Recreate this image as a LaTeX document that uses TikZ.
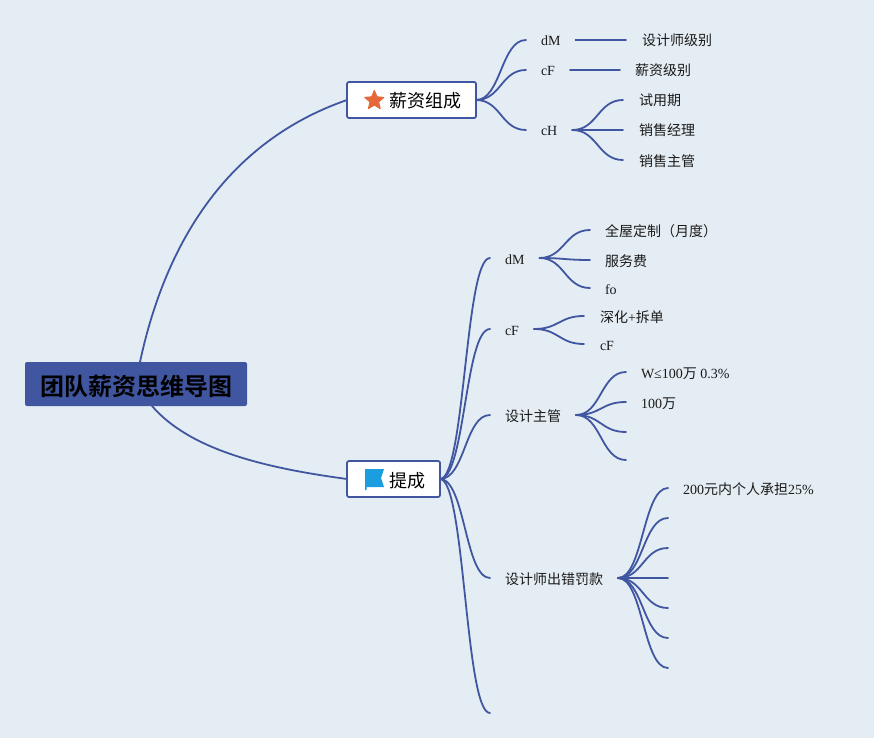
\documentclass[tikz,border=0pt]{standalone}
\usepackage{fontspec}
\setmainfont{Liberation Serif}
\newfontfamily\cjk{Noto Sans CJK SC}
\newfontfamily\cjkb{Noto Sans CJK SC Bold}
\usetikzlibrary{shapes.geometric}
\definecolor{bgc}{HTML}{E4EDF3}
\definecolor{linec}{HTML}{4056A1}
\definecolor{inkc}{HTML}{1A1A1A}
\definecolor{starc}{HTML}{E5673A}
\definecolor{flagc}{HTML}{1B9EDF}
\newcommand\lnk[2]{\draw[linkline] (#1) .. controls +(25,0) and +(-25,0) .. (#2);}
\newcommand\zh[1]{{\cjk #1}}
\tikzset{
  linkline/.style={draw=linec,line width=1.8pt,line cap=round},
  mainbox/.style={draw=linec,fill=white,line width=1.8pt,rounded corners=2pt,anchor=west,
    inner xsep=15pt,inner ysep=0pt,minimum height=36pt,outer sep=0pt,text height=16pt,text depth=0pt,
    font=\fontsize{18}{18}\selectfont,text=black},
  rootbox/.style={fill=linec,rounded corners=2pt,minimum width=222pt,minimum height=44pt,
    inner sep=0pt,outer sep=0pt,text height=22pt,text depth=0pt,text=black,font=\fontsize{24}{24}\selectfont},
  topic/.style={anchor=west,inner xsep=15pt,inner ysep=0pt,outer sep=0pt,text height=12pt,text depth=0pt,
    text=inkc,font=\fontsize{14}{14}\selectfont},
  leaf/.style={anchor=west,inner xsep=0pt,inner ysep=0pt,outer sep=0pt,text height=12pt,text depth=0pt,
    text=inkc,font=\fontsize{14}{14}\selectfont},
}
\begin{document}
\begin{tikzpicture}[x=1pt,y=-1pt]
\path[use as bounding box,fill=bgc] (0,0) rectangle (874,738);
% root and main boxes
\node[rootbox] (root) at (136,384) {\cjkb 团队薪资思维导图};
\node[mainbox] (pay) at (347,100) {\hspace{27pt}\zh{薪资组成}};
\node[mainbox] (comm) at (347,479) {\hspace{27pt}\zh{提成}};
\node[star,star points=5,star point ratio=2.2,fill=starc,draw=starc,line width=1pt,line join=round,minimum size=20pt,inner sep=0pt] (staricon) at (374.3,100.5) {};
\fill[fill=flagc] (365,469) -- (384,469) -- (381,478) -- (384,487) -- (366.5,487) -- (366.5,490) -- (365,490) -- cycle;
% first group
\node[topic] (a1) at (526,40) {dM};
\node[topic] (a2) at (526,70) {cF};
\node[topic] (a3) at (526,130) {cH};
\node[leaf,inner xsep=16pt] (a1a) at (626,40) {\zh{设计师级别}};
\node[leaf,inner xsep=15pt] (a2a) at (620,70) {\zh{薪资级别}};
\node[leaf,inner xsep=16pt] (a3a) at (623,100) {\zh{试用期}};
\node[leaf,inner xsep=16pt] (a3b) at (623,130) {\zh{销售经理}};
\node[leaf,inner xsep=16pt] (a3c) at (623,160) {\zh{销售主管}};
% second group
\node[topic] (b1) at (490,258) {dM};
\node[topic] (b2) at (490,329) {cF};
\node[topic] (b3) at (490,415) {\zh{设计主管}};
\node[topic] (b4) at (490,578) {\zh{设计师出错罚款}};
\coordinate (b5) at (490,713);
\node[leaf,inner xsep=15pt] (b1a) at (590,230) {\zh{全屋定制（月度）}};
\node[leaf,inner xsep=15pt] (b1b) at (590,260) {\zh{服务费}};
\node[leaf,inner xsep=15pt] (b1c) at (590,288) {fo};
\node[leaf,inner xsep=16pt] (b2a) at (584,316) {\zh{深化}+\zh{拆单}};
\node[leaf,inner xsep=16pt] (b2b) at (584,344) {cF};
\node[leaf,inner xsep=15pt] (b3a) at (626,372) {W≤100\zh{万} 0.3\%};
\node[leaf,inner xsep=15pt] (b3b) at (626,402) {100\zh{万}};
\coordinate (b3c) at (626,432);
\coordinate (b3d) at (626,460);
\node[leaf,inner xsep=15pt] (b4a) at (668,488) {200\zh{元内个人承担}25\%};
\coordinate (b4b) at (668,518);
\coordinate (b4c) at (668,548);
\coordinate (b4d) at (668,578);
\coordinate (b4e) at (668,608);
\coordinate (b4f) at (668,638);
\coordinate (b4g) at (668,668);
% connectors from the root
\draw[linkline] ([xshift=4pt]root.north) .. controls (170,222) and (243,136) .. (pay.west);
\draw[linkline] ([xshift=16pt]root.south) .. controls (190,450) and (265,468) .. (comm.west);
% connectors, first group
\lnk{pay.east}{a1.west}
\lnk{pay.east}{a2.west}
\lnk{pay.east}{a3.west}
\draw[linkline] (a1.east) -- (a1a.west);
\draw[linkline] (a2.east) -- (a2a.west);
\lnk{a3.east}{a3a.west}
\lnk{a3.east}{a3b.west}
\lnk{a3.east}{a3c.west}
% connectors, second group
\lnk{comm.east}{b1.west}
\lnk{comm.east}{b2.west}
\lnk{comm.east}{b3.west}
\lnk{comm.east}{b4.west}
\lnk{comm.east}{b5}
\lnk{b1.east}{b1a.west}
\lnk{b1.east}{b1b.west}
\lnk{b1.east}{b1c.west}
\lnk{b2.east}{b2a.west}
\lnk{b2.east}{b2b.west}
\lnk{b3.east}{b3a.west}
\lnk{b3.east}{b3b.west}
\lnk{b3.east}{b3c}
\lnk{b3.east}{b3d}
\lnk{b4.east}{b4a.west}
\lnk{b4.east}{b4b}
\lnk{b4.east}{b4c}
\lnk{b4.east}{b4d}
\lnk{b4.east}{b4e}
\lnk{b4.east}{b4f}
\lnk{b4.east}{b4g}
\end{tikzpicture}
\end{document}
